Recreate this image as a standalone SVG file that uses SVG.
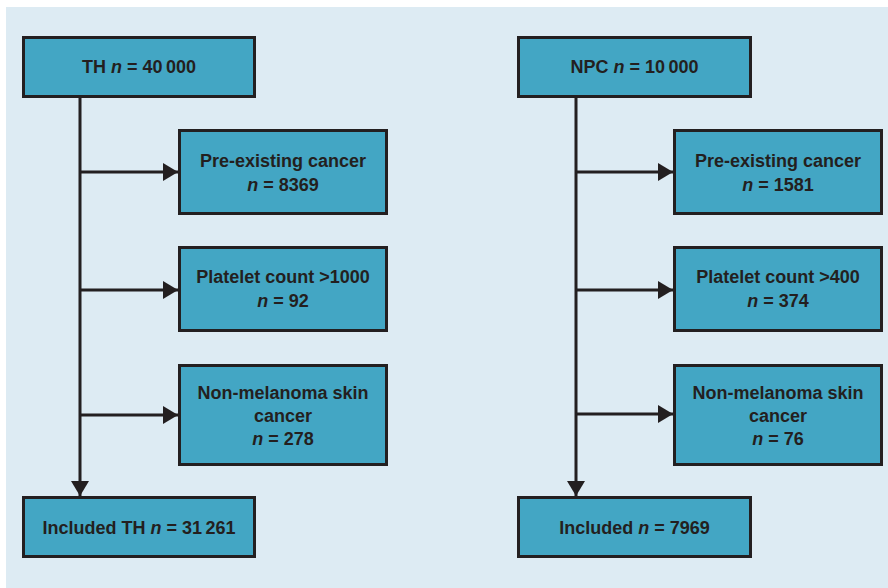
<svg xmlns="http://www.w3.org/2000/svg" width="888" height="588" viewBox="0 0 888 588">
<style>
.box{fill:#43a6c4;stroke:#231f20;stroke-width:3}
.t{font-family:"Liberation Sans",Arial,sans-serif;font-weight:bold;font-size:18px;fill:#231f20;text-anchor:middle}
.i{font-style:italic}
.c{fill:none;stroke:#231f20;stroke-width:3}
</style>
<defs>
<marker id="ah" markerUnits="userSpaceOnUse" markerWidth="16" markerHeight="18" refX="15" refY="9" orient="auto" viewBox="0 0 16 18">
<path d="M0,0 L15,9 L0,18 z" fill="#231f20"/>
</marker>
</defs>
<rect x="0" y="0" width="888" height="588" fill="#ffffff"/>
<rect x="6" y="7" width="882" height="581" fill="#ddebf3"/>
<g id="connectors">
<path class="c" d="M80,98 V496" marker-end="url(#ah)"/>
<path class="c" d="M80,172 H178" marker-end="url(#ah)"/>
<path class="c" d="M80,290 H178" marker-end="url(#ah)"/>
<path class="c" d="M80,415 H178" marker-end="url(#ah)"/>
<path class="c" d="M576,98 V496" marker-end="url(#ah)"/>
<path class="c" d="M576,172 H673" marker-end="url(#ah)"/>
<path class="c" d="M576,290 H673" marker-end="url(#ah)"/>
<path class="c" d="M576,414 H673" marker-end="url(#ah)"/>
</g>
<g id="th">
<rect class="box" x="23.5" y="37.5" width="231" height="59"/>
<text class="t" x="139" y="73">TH <tspan class="i">n</tspan> = 40&#8201;000</text>
</g>
<g id="th-pre">
<rect class="box" x="179.5" y="130.5" width="207" height="83"/>
<text class="t" x="283" y="167">Pre-existing cancer</text>
<text class="t" x="283" y="191"><tspan class="i">n</tspan> = 8369</text>
</g>
<g id="th-plt">
<rect class="box" x="179.5" y="247.5" width="207" height="83"/>
<text class="t" x="283" y="283">Platelet count &gt;1000</text>
<text class="t" x="283" y="307"><tspan class="i">n</tspan> = 92</text>
</g>
<g id="th-nmsc">
<rect class="box" x="179.5" y="365.5" width="207" height="99"/>
<text class="t" x="283" y="399">Non-melanoma skin</text>
<text class="t" x="283" y="422">cancer</text>
<text class="t" x="283" y="445"><tspan class="i">n</tspan> = 278</text>
</g>
<g id="th-inc">
<rect class="box" x="23.5" y="497.5" width="231" height="59"/>
<text class="t" x="139" y="534">Included TH <tspan class="i">n</tspan> = 31&#8201;261</text>
</g>
<g id="npc">
<rect class="box" x="518.5" y="37.5" width="232" height="59"/>
<text class="t" x="634.5" y="73">NPC <tspan class="i">n</tspan> = 10&#8201;000</text>
</g>
<g id="npc-pre">
<rect class="box" x="674.5" y="130.5" width="207" height="83"/>
<text class="t" x="778" y="167">Pre-existing cancer</text>
<text class="t" x="778" y="191"><tspan class="i">n</tspan> = 1581</text>
</g>
<g id="npc-plt">
<rect class="box" x="674.5" y="247.5" width="207" height="83"/>
<text class="t" x="778" y="283">Platelet count &gt;400</text>
<text class="t" x="778" y="307"><tspan class="i">n</tspan> = 374</text>
</g>
<g id="npc-nmsc">
<rect class="box" x="674.5" y="365.5" width="207" height="99"/>
<text class="t" x="778" y="399">Non-melanoma skin</text>
<text class="t" x="778" y="422">cancer</text>
<text class="t" x="778" y="445"><tspan class="i">n</tspan> = 76</text>
</g>
<g id="npc-inc">
<rect class="box" x="518.5" y="497.5" width="232" height="59"/>
<text class="t" x="634.5" y="534">Included <tspan class="i">n</tspan> = 7969</text>
</g>
</svg>
